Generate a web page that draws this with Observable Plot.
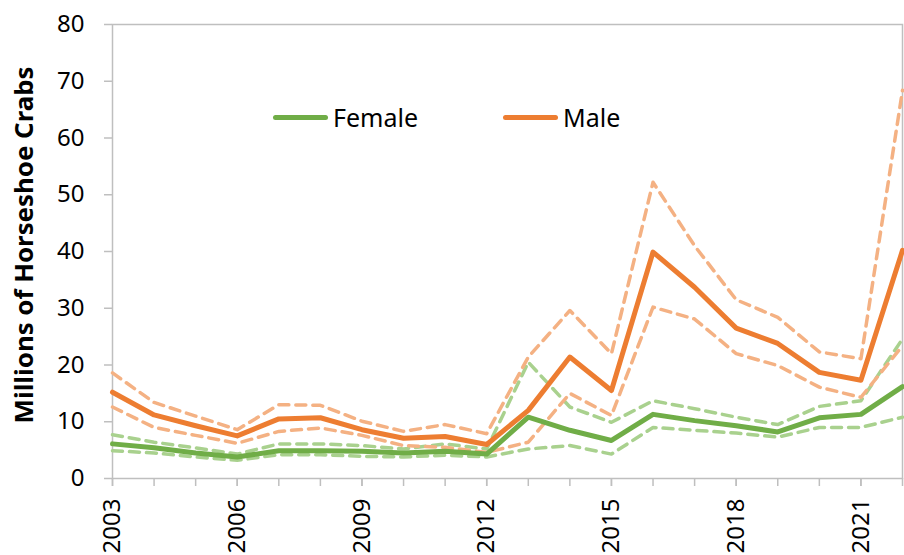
<!DOCTYPE html>
<html>
<head>
<meta charset="utf-8">
<script src="https://cdn.jsdelivr.net/npm/d3@7"></script>
<script src="https://cdn.jsdelivr.net/npm/@observablehq/plot@0.6"></script>
<style>
  body { margin: 0; background: white; }
  #wrap { position: relative; width: 904px; height: 555px; font-family: "Noto Sans", sans-serif; }
  .leg { position: absolute; top: 102px; display: flex; align-items: center; font-size: 25px; color: #000; line-height: 30px; }
  .sw { width: 55px; height: 5px; border-radius: 3px; margin-right: 5px; }
</style>
</head>
<body>
<div id="wrap"></div>
<script>
const years = [2003,2004,2005,2006,2007,2008,2009,2010,2011,2012,2013,2014,2015,2016,2017,2018,2019,2020,2021,2022];
const labelYears = [2003,2006,2009,2012,2015,2018,2021];
const yTicks = [0,10,20,30,40,50,60,70,80];

const femaleMid = [6.1,5.4,4.5,3.8,4.9,4.9,4.8,4.5,4.8,4.3,10.8,8.5,6.7,11.3,10.2,9.3,8.2,10.7,11.3,16.2];
const femaleHi  = [7.7,6.4,5.4,4.3,6.1,6.1,5.8,5.2,6.1,5.2,20.5,12.6,9.9,13.7,12.3,10.8,9.5,12.7,13.7,24.6];
const femaleLo  = [4.9,4.5,3.8,3.2,4.2,4.2,3.9,3.8,4.1,3.8,5.2,5.8,4.3,9.0,8.5,8.0,7.3,9.0,9.0,10.8];
const maleMid   = [15.2,11.2,9.3,7.5,10.5,10.7,8.6,7.1,7.4,6.0,12.0,21.4,15.5,39.9,33.7,26.5,23.8,18.7,17.3,40.2];
const maleHi    = [18.6,13.4,11.0,8.6,13.0,12.9,10.1,8.3,9.5,7.9,21.4,29.6,22.0,52.2,41.0,31.5,28.4,22.3,21.1,68.4];
const maleLo    = [12.6,9.0,7.6,6.2,8.3,8.9,7.6,5.8,5.5,4.6,6.4,15.0,11.1,30.2,28.1,22.0,19.9,16.1,14.3,23.4];

const seriesNames = ["Female", "Male"];
const yLabel = "Millions of Horseshoe Crabs";

const colors = {Female: "#70AD47", Male: "#ED7D31"};
const light = {Female: "#A9D18E", Male: "#F4B183"};

const pts = arr => years.map((year, i) => ({year, value: arr[i]}));

const dashStyle = c => ({x: "year", y: "value", stroke: c, strokeWidth: 3.5, strokeDasharray: "10,7"});
const solidStyle = c => ({x: "year", y: "value", stroke: c, strokeWidth: 5, strokeLinejoin: "round"});

const chart = Plot.plot({
  width: 904,
  height: 555,
  marginLeft: 112,
  marginRight: 2,
  marginTop: 24,
  marginBottom: 77,
  style: {fontFamily: "Noto Sans", fontSize: "24px", color: "#000", background: "white", overflow: "visible"},
  x: {domain: [2003, 2022]},
  y: {domain: [0, 80]},
  marks: [
    Plot.frame({stroke: "#bfbfbf", strokeWidth: 1.5}),
    Plot.axisY({ticks: yTicks, tickSize: 8, tickPadding: 20, stroke: "#bfbfbf", strokeWidth: 1.5, fill: "#000", fontSize: 24, label: null}),
    Plot.axisX({ticks: years, tickSize: 8, stroke: "#bfbfbf", strokeWidth: 1.5, tickFormat: () => "", label: null}),
    Plot.axisX({ticks: labelYears, tickSize: 8, tickPadding: 12, tickRotate: -90, stroke: "#bfbfbf", strokeWidth: 1.5, fill: "#000", fontSize: 24, tickFormat: d => String(d), label: null}),
    Plot.text([yLabel], {frameAnchor: "left", textAnchor: "middle", dx: -88, dy: -6.5, rotate: -90, fontWeight: "bold", fontSize: 24, fill: "#000", className: "ylab"}),
    Plot.line(pts(femaleHi), dashStyle(light.Female)),
    Plot.line(pts(femaleLo), dashStyle(light.Female)),
    Plot.line(pts(maleHi), dashStyle(light.Male)),
    Plot.line(pts(maleLo), dashStyle(light.Male)),
    Plot.line(pts(femaleMid), solidStyle(colors.Female)),
    Plot.line(pts(maleMid), solidStyle(colors.Male))
  ]
});

const wrap = document.getElementById("wrap");
wrap.appendChild(chart);

// fit the axis title to the reference's length
const t = chart.querySelector(".ylab text");
if (t) {
  const len = t.getComputedTextLength();
  if (len > 0) t.setAttribute("font-size", (24 * 357 / len).toFixed(2));
}

const legLeft = {Female: 273, Male: 503};
for (const name of seriesNames) {
  const d = document.createElement("div");
  d.className = "leg";
  d.style.left = legLeft[name] + "px";
  d.innerHTML = `<span class="sw" style="background:${colors[name]}"></span><span>${name}</span>`;
  wrap.appendChild(d);
}
</script>
</body>
</html>
